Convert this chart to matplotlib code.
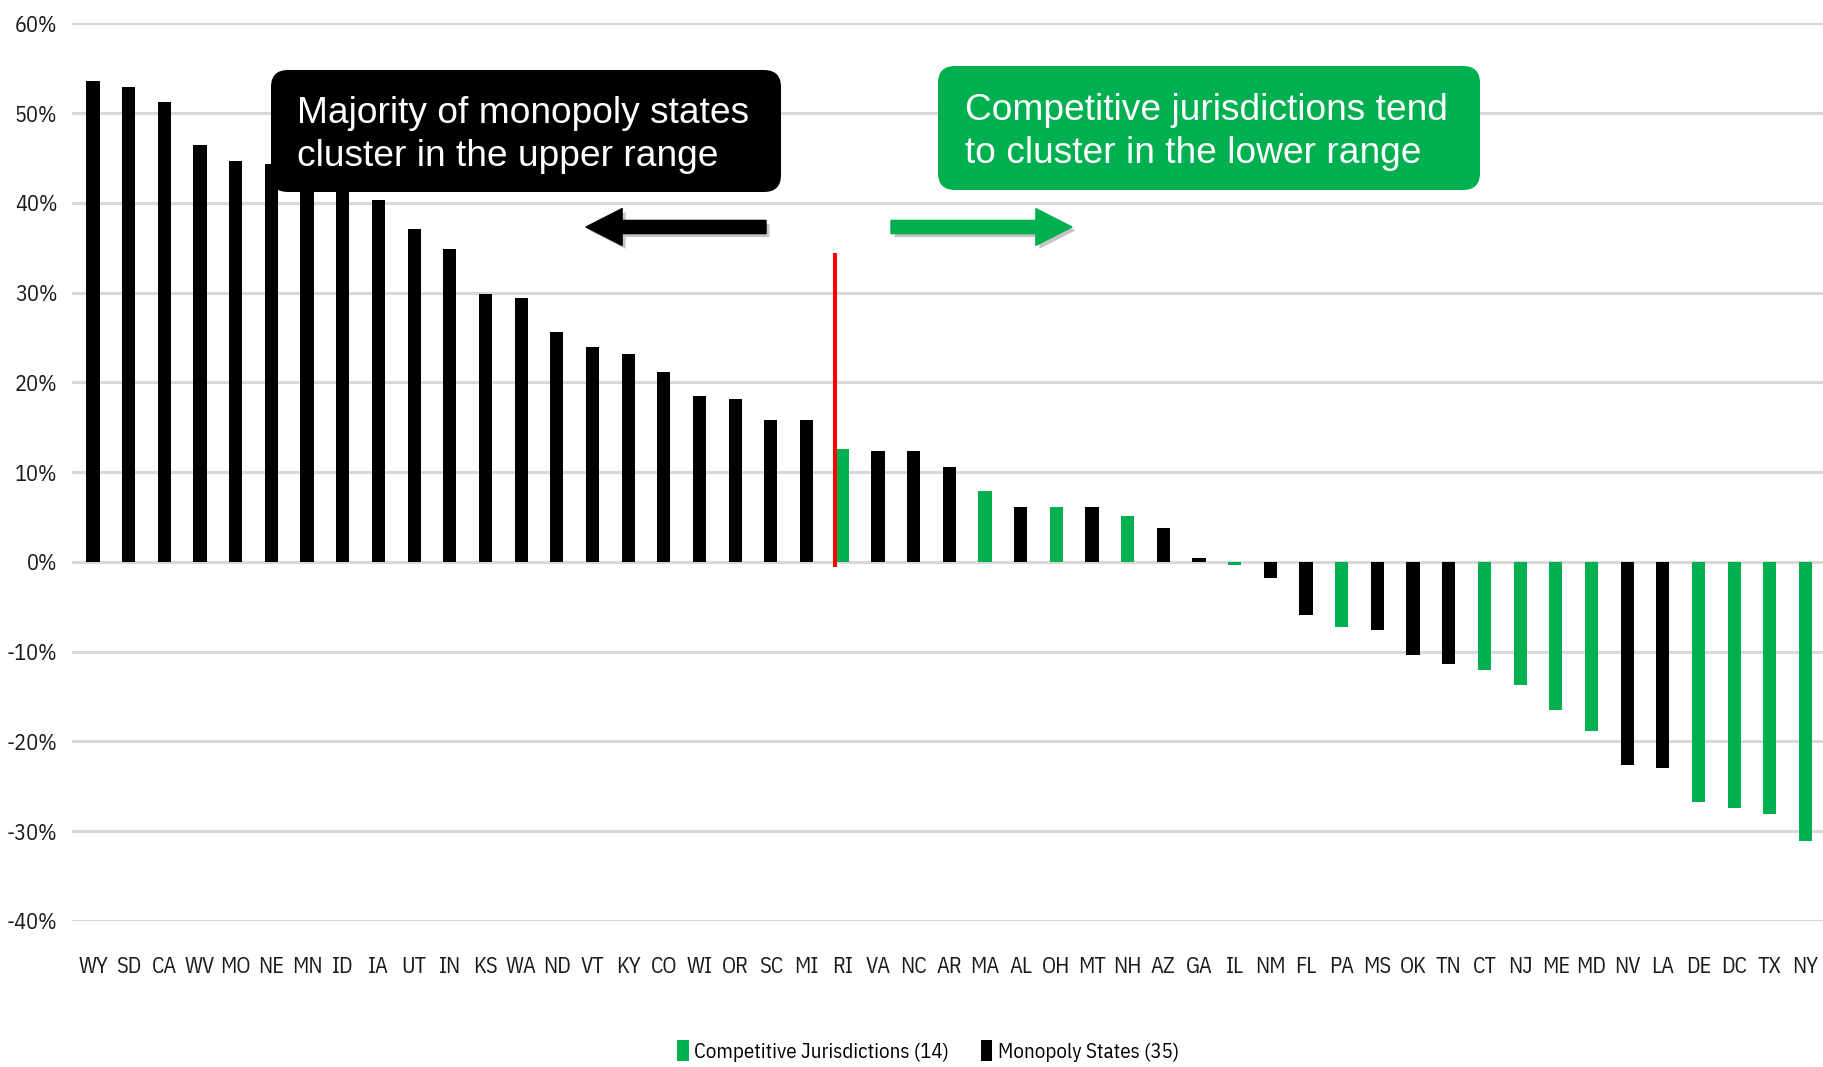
import matplotlib
matplotlib.use("Agg")
import matplotlib.pyplot as plt
import matplotlib.transforms as mtransforms
import matplotlib.patheffects as pe
from matplotlib.patches import FancyBboxPatch, Patch

# price change by state, sorted high to low
states = ["WY", "SD", "CA", "WV", "MO", "NE", "MN", "ID", "IA", "UT", "IN", "KS", "WA",
          "ND", "VT", "KY", "CO", "WI", "OR", "SC", "MI", "RI", "VA", "NC", "AR", "MA",
          "AL", "OH", "MT", "NH", "AZ", "GA", "IL", "NM", "FL", "PA", "MS", "OK", "TN",
          "CT", "NJ", "ME", "MD", "NV", "LA", "DE", "DC", "TX", "NY"]
values = [53.6, 52.9, 51.2, 46.4, 44.7, 44.3, 43.5, 42.5, 40.3, 37.1, 34.8, 29.8, 29.4,
          25.6, 23.9, 23.2, 21.2, 18.5, 18.1, 15.8, 15.8, 12.6, 12.3, 12.3, 10.6, 7.9,
          6.1, 6.1, 6.1, 5.1, 3.8, 0.4, -0.4, -1.8, -5.9, -7.3, -7.6, -10.4, -11.4,
          -12.0, -13.7, -16.5, -18.9, -22.6, -23.0, -26.8, -27.4, -28.1, -31.1]
market = ["M", "M", "M", "M", "M", "M", "M", "M", "M", "M", "M", "M", "M",
          "M", "M", "M", "M", "M", "M", "M", "M", "C", "M", "M", "M", "C",
          "M", "C", "M", "C", "M", "M", "C", "M", "M", "C", "M", "M", "M",
          "C", "C", "C", "C", "M", "M", "C", "C", "C", "C"]
yticks = [-40, -30, -20, -10, 0, 10, 20, 30, 40, 50, 60]

GREEN = "#00B050"
BLACK = "#000000"
GRID = "#D9D9D9"
NARROW = ["IBM Plex Sans Condensed", "DejaVu Sans"]

fig = plt.figure(figsize=(18.23, 10.67), dpi=100)
ax = fig.add_axes([0.0395, 0.137, 0.9605, 0.8412])

# pixel coordinates (origin bottom-left) for the callouts
px = mtransforms.Affine2D().scale(1 / 100.0) + fig.dpi_scale_trans
H = 1067

x = list(range(len(states)))
colors = [GREEN if m == "C" else BLACK for m in market]
ax.bar(x, values, width=0.37, color=colors, zorder=3)

ax.set_ylim(-40, 60)
ax.set_xlim(-0.589, 48.49)
ax.set_yticks(yticks)
ax.set_yticklabels(["%d%%" % t for t in yticks])
ax.set_xticks(x)
ax.set_xticklabels(states)
ax.grid(axis="y", color=GRID, linewidth=2.2, zorder=0)
ax.grid(axis="x", visible=False)
for s in ax.spines.values():
    s.set_visible(False)
ax.tick_params(axis="both", length=0, colors="#1a1a1a")
ax.tick_params(axis="y", pad=10.5, labelsize=16)
ax.tick_params(axis="x", pad=25, labelsize=16)
for lab in ax.get_xticklabels() + ax.get_yticklabels():
    lab.set_family(NARROW)

# divider between the two groups
ax.plot([20.81, 20.81], [34.4, -0.55], color="#FF0000", linewidth=2.9, zorder=5,
        solid_capstyle="butt")

# callout boxes
def callout(x0, y_top, x1, y_bot, color, text, tx, ty):
    box = FancyBboxPatch((x0, H - y_bot), x1 - x0, y_bot - y_top,
                         boxstyle="round,pad=0,rounding_size=17",
                         transform=px, facecolor=color, edgecolor="none")
    fig.patches.append(box)
    fig.text(tx, H - ty, text, transform=px, color="white", fontsize=26.7,
             family=["Liberation Sans", "DejaVu Sans"], ha="left", va="center",
             linespacing=1.26)

callout(271, 70, 781, 192, BLACK,
        "Majority of monopoly states\ncluster in the upper range", 297, 135)
callout(938, 66, 1480, 190, GREEN,
        "Competitive jurisdictions tend\nto cluster in the lower range", 965, 132)

# direction arrows
arrow_style = "simple,head_length=26,head_width=26.5,tail_width=9.5"
for x_from, x_to, c in [(766, 586, BLACK), (891, 1072, GREEN)]:
    ann = fig.add_artist(plt.Annotation(
        "", xy=(x_to, H - 227), xytext=(x_from, H - 227),
        xycoords=px, textcoords=px,
        arrowprops=dict(arrowstyle=arrow_style, mutation_scale=1, color=c,
                        shrinkA=0, shrinkB=0)))
    ann.arrow_patch.set_path_effects([
        pe.SimplePatchShadow(offset=(2.5, -2.5), shadow_rgbFace="#808080", alpha=0.45),
        pe.Normal()])

handles = [Patch(facecolor=GREEN, label="Competitive Jurisdictions (14)"),
           Patch(facecolor=BLACK, label="Monopoly States (35)")]
fig.legend(handles=handles, loc="center", bbox_to_anchor=(0.509, 0.015), ncol=2,
           frameon=False, handlelength=0.55, handleheight=1.2, handletextpad=0.25,
           columnspacing=1.55, prop={"family": NARROW, "size": 15})

fig.savefig("out.png", dpi=100, facecolor="white")
